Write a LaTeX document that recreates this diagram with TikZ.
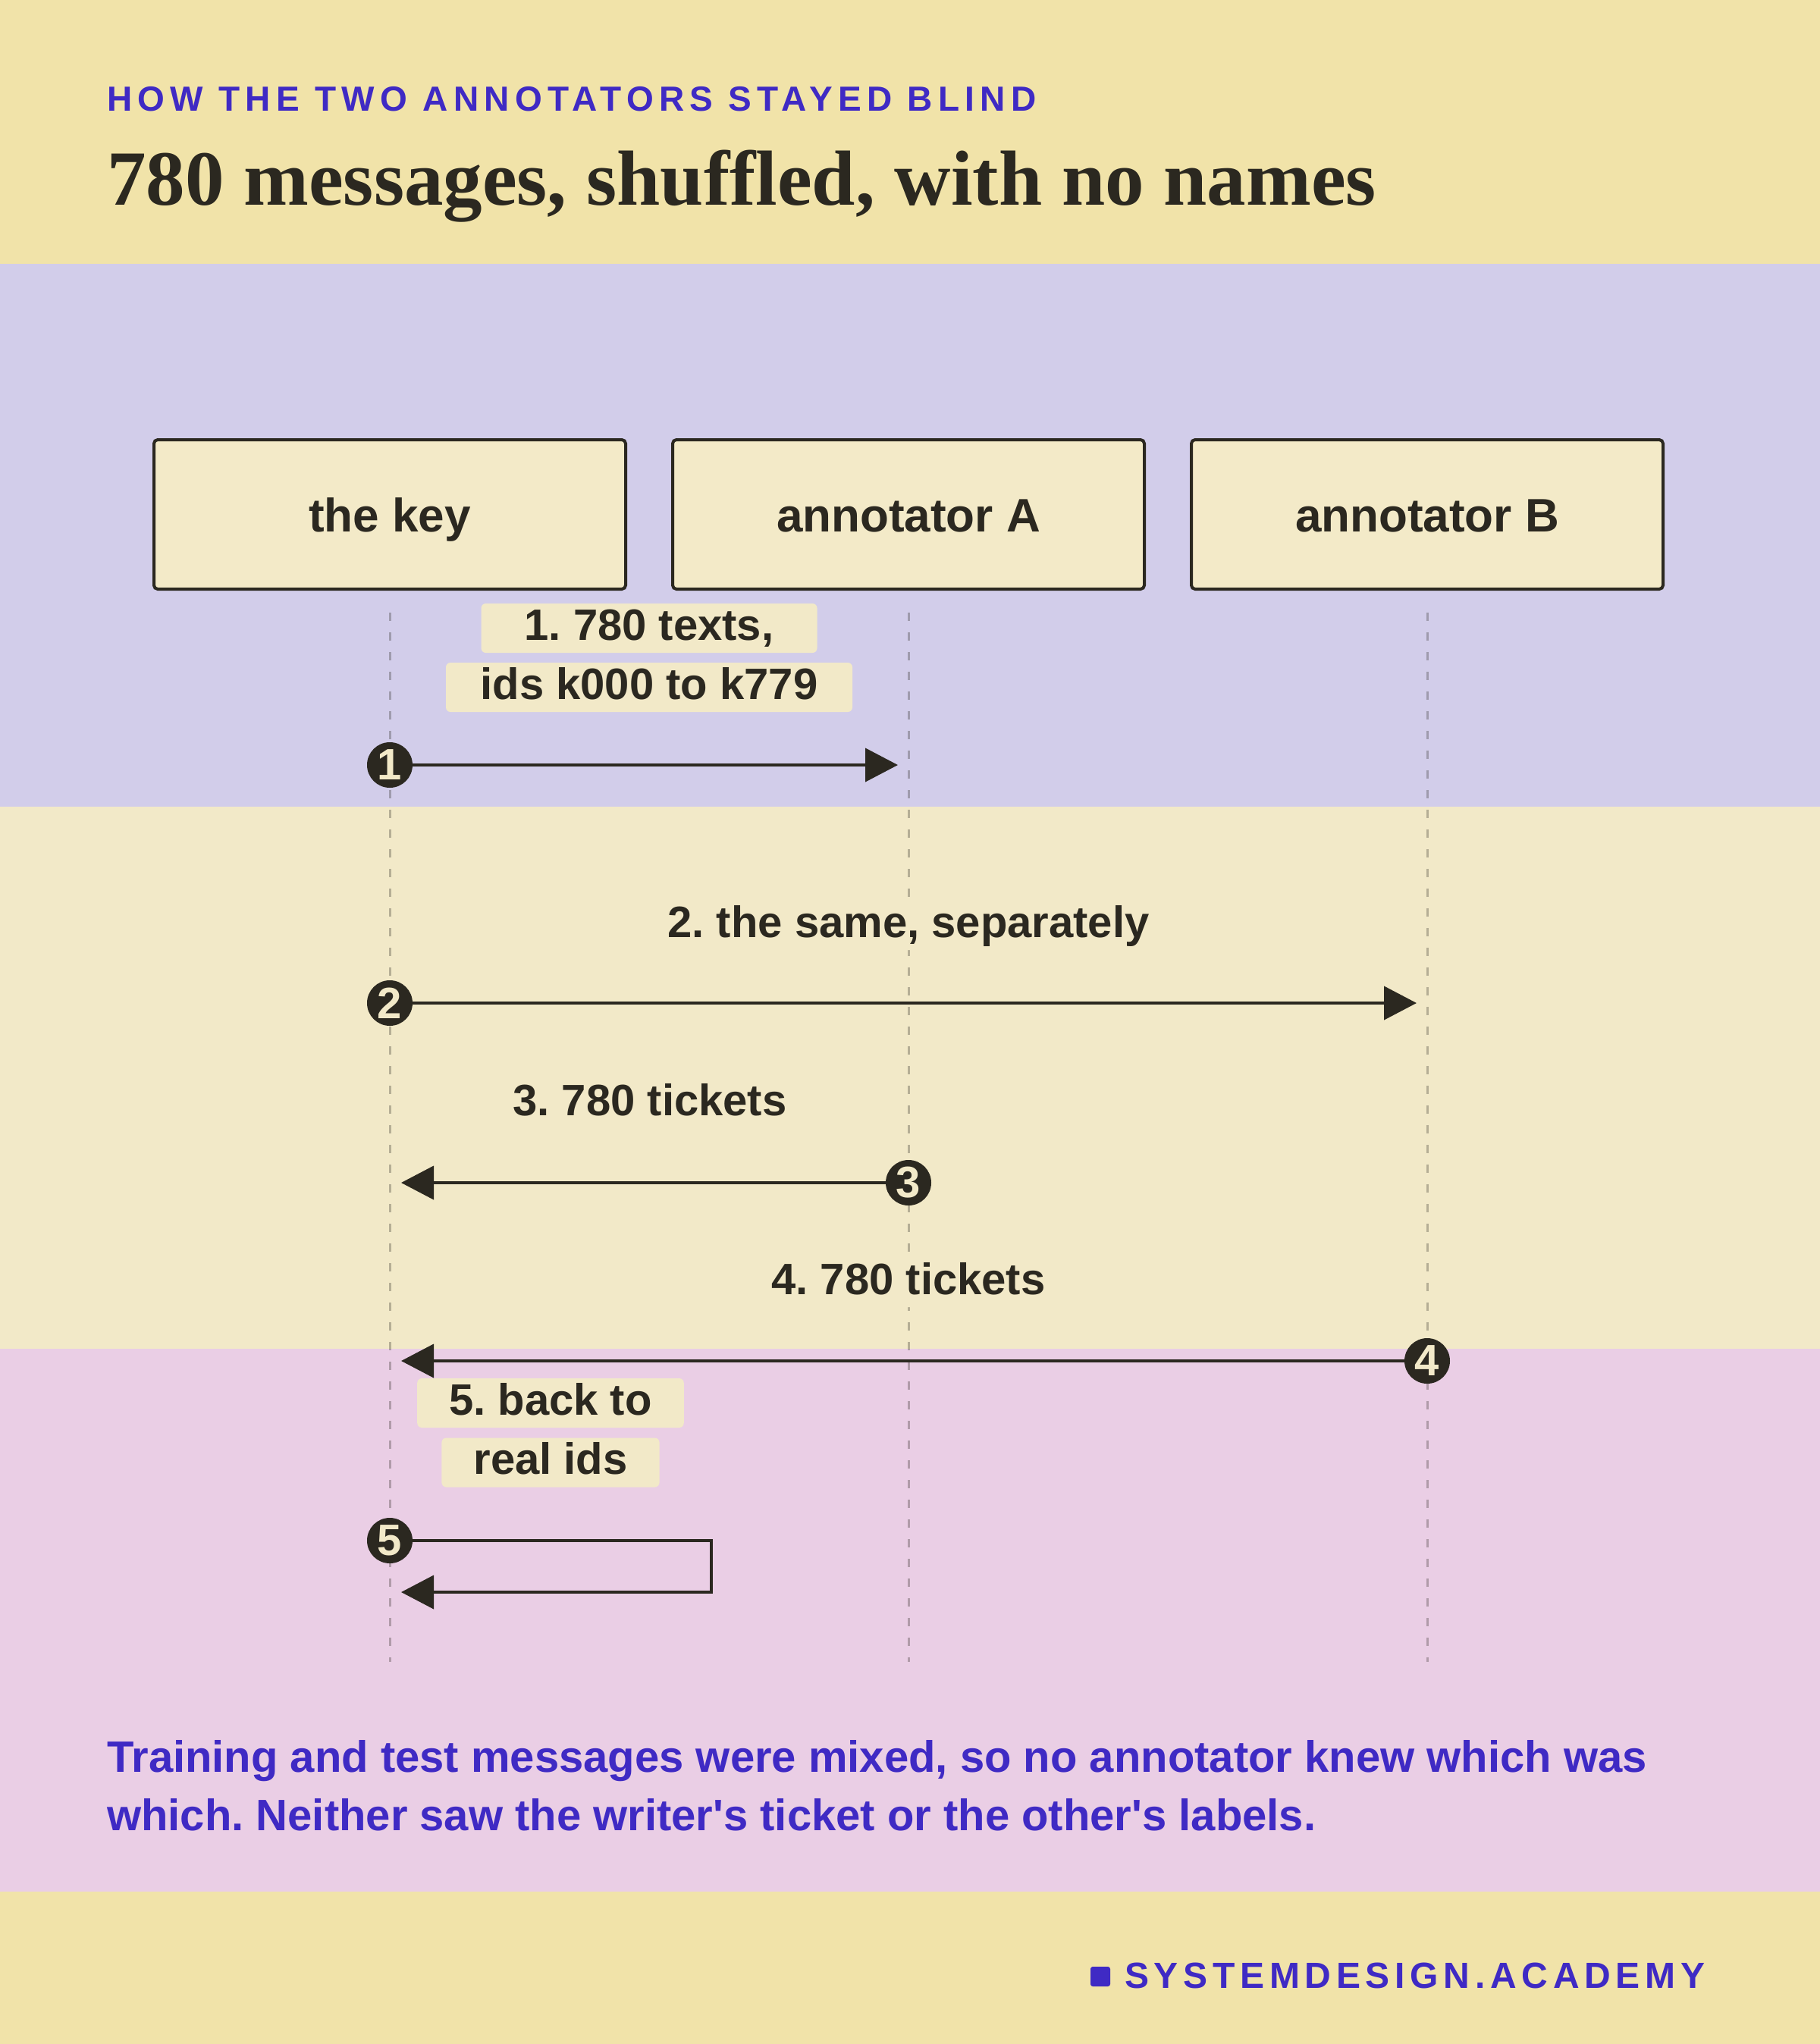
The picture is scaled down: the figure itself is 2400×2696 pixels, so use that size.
\documentclass[tikz,border=0pt]{standalone}
\usepackage{fontspec}
\setmainfont{Liberation Sans}
\newfontfamily\serifbold{Liberation Serif}
\newfontfamily\spacedsans{Liberation Sans}[LetterSpace=16]
\newfontfamily\spacedfoot{Liberation Sans}[LetterSpace=14]
\usetikzlibrary{arrows.meta}
\frenchspacing
\definecolor{topyellow}{HTML}{F1E3A9}
\definecolor{lavender}{HTML}{D2CDEA}
\definecolor{creamband}{HTML}{F2E9C8}
\definecolor{pinkband}{HTML}{EACEE5}
\definecolor{ink}{HTML}{2B2820}
\definecolor{accent}{HTML}{3F2AC4}
\definecolor{boxfill}{HTML}{F3EAC8}
\definecolor{labelfill}{HTML}{F2E9C8}
\tikzset{
  actor/.style={draw=ink, fill=boxfill, line width=4pt, rounded corners=5pt,
    minimum width=622pt, minimum height=197pt, inner sep=0pt,
    text height=45pt, text depth=0pt, text=ink,
    font=\bfseries\fontsize{62}{70}\selectfont},
  lifeline/.style={draw=ink, draw opacity=0.3, line width=3pt,
    dash pattern=on 11pt off 15pt},
  msglabel/.style={fill=labelfill, rounded corners=6pt, text=ink,
    text height=44pt, text depth=13pt, inner ysep=4pt, inner xsep=42pt,
    font=\bfseries\fontsize{58}{66}\selectfont},
  stepdot/.style={circle, fill=ink, minimum size=60pt, inner sep=0pt,
    text=creamband, font=\bfseries\fontsize{58}{60}\selectfont},
  msgarrow/.style={draw=ink, line width=4pt,
    -{Triangle[length=43pt, width=44pt]}},
}
\begin{document}
\begin{tikzpicture}[x=1pt, y=-1pt]
\useasboundingbox (0,0) rectangle (2400,2696);
% bands
\fill[topyellow] (0,0) rectangle (2400,348);
\fill[lavender] (0,348) rectangle (2400,1064);
\fill[creamband] (0,1064) rectangle (2400,1779);
\fill[pinkband] (0,1779) rectangle (2400,2495);
\fill[topyellow] (0,2495) rectangle (2400,2696);

% titles
\node[anchor=base west, inner sep=0pt, text=accent,
  font=\spacedsans\bfseries\fontsize{46}{50}\selectfont] (kicker) at (141,146)
  {HOW THE TWO ANNOTATORS STAYED BLIND};
\node[anchor=base west, inner sep=0pt, text=ink,
  font=\serifbold\bfseries\fontsize{103}{110}\selectfont] (title) at (141,270)
  {780 messages, shuffled, with no names};

% actors
\node[actor] (key) at (514,678.5) {the key};
\node[actor] (annA) at (1198,678.5) {annotator A};
\node[actor] (annB) at (1882,678.5) {annotator B};

% lifeline ends
\coordinate (keyTop) at (514,808);
\coordinate (keyBot) at (514,2192);
\coordinate (aTop) at (1198,808);
\coordinate (aBot) at (1198,2192);
\coordinate (bTop) at (1882,808);
\coordinate (bBot) at (1882,2192);
\draw[lifeline] (keyTop) -- (keyBot);
\draw[lifeline] (aTop) -- (aBot);
\draw[lifeline] (bTop) -- (bBot);

% labels
\node[msglabel, minimum width=443pt] (l1a) at (856,828.5) {1. 780 texts,};
\node[msglabel, minimum width=536pt] (l1b) at (856,906.5) {ids k000 to k779};
\node[msglabel] (l2) at (1198,1220.5) {2. the same, separately};
\node[msglabel] (l3) at (857,1455.5) {3. 780 tickets};
\node[msglabel] (l4) at (1198,1691.5) {4. 780 tickets};
\node[msglabel, minimum width=348pt] (l5a) at (726,1850.5) {5. back to};
\node[msglabel, minimum width=286pt] (l5b) at (726,1929) {real ids};

% arrow end points
\coordinate (t1) at (1184,1009);
\coordinate (t2) at (1868,1323);
\coordinate (t3) at (529,1560);
\coordinate (t4) at (529,1795);
\coordinate (s5a) at (938,2032);
\coordinate (s5b) at (938,2100);
\coordinate (t5) at (529,2100);

% step dots
\node[stepdot] (c1) at (514,1009) {1};
\node[stepdot] (c2) at (514,1323) {2};
\node[stepdot] (c3) at (1198,1560) {3};
\node[stepdot] (c4) at (1882,1795) {4};
\node[stepdot] (c5) at (514,2032) {5};

% arrows
\draw[msgarrow] (c1) -- (t1);
\draw[msgarrow] (c2) -- (t2);
\draw[msgarrow] (c3) -- (t3);
\draw[msgarrow] (c4) -- (t4);
\draw[msgarrow] (c5) -- (s5a) -- (s5b) -- (t5);

% caption
\node[anchor=base west, inner sep=0pt, text=accent,
  font=\bfseries\fontsize{58}{77}\selectfont] (cap1) at (141,2337)
  {Training and test messages were mixed, so no annotator knew which was};
\node[anchor=base west, inner sep=0pt, text=accent,
  font=\bfseries\fontsize{58}{77}\selectfont] (cap2) at (141,2414)
  {which. Neither saw the writer\textquotesingle s ticket or the other\textquotesingle s labels.};

% footer
\node[fill=accent, minimum size=26pt, inner sep=0pt, rounded corners=3pt] (sq) at (1451,2607) {};
\node[anchor=base west, inner sep=0pt, text=accent,
  font=\spacedfoot\bfseries\fontsize{48}{52}\selectfont] (foot) at (1483,2622)
  {SYSTEMDESIGN.ACADEMY};
\end{tikzpicture}
\end{document}
